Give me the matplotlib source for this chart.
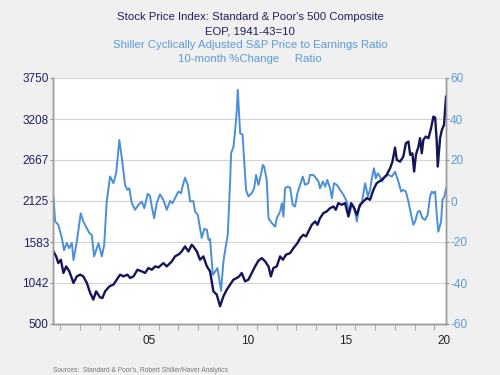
import matplotlib.pyplot as plt
import numpy as np

# ------------------------------
# Data
# ------------------------------
# S&P 500 index level (left axis)
sp_years = [
    2000.65, 2000.79, 2000.90, 2001.03, 2001.16, 2001.30, 2001.46, 2001.67, 2001.84, 2002.01,
    2002.17, 2002.35, 2002.52, 2002.68, 2002.82, 2003.02, 2003.14, 2003.28, 2003.50, 2003.70,
    2003.87, 2004.04, 2004.21, 2004.41, 2004.55, 2004.72, 2004.92, 2005.14, 2005.31, 2005.48,
    2005.65, 2005.82, 2005.99, 2006.24, 2006.41, 2006.67, 2006.83, 2007.04, 2007.17, 2007.34,
    2007.51, 2007.68, 2007.76, 2007.94, 2008.10, 2008.27, 2008.45, 2008.61, 2008.78, 2008.95,
    2009.12, 2009.29, 2009.46, 2009.63, 2009.80, 2009.97, 2010.09, 2010.22, 2010.39, 2010.56,
    2010.73, 2010.90, 2011.07, 2011.24, 2011.41, 2011.58, 2011.70, 2011.83, 2012.00, 2012.17,
    2012.31, 2012.47, 2012.68, 2012.85, 2013.05, 2013.19, 2013.35, 2013.49, 2013.61, 2013.78,
    2013.95, 2014.07, 2014.20, 2014.37, 2014.54, 2014.71, 2014.88, 2015.00, 2015.13, 2015.30,
    2015.47, 2015.64, 2015.78, 2015.89, 2016.07, 2016.23, 2016.40, 2016.58, 2016.74, 2016.91,
    2017.08, 2017.34, 2017.59, 2017.76, 2017.88, 2018.01, 2018.10, 2018.27, 2018.43, 2018.56,
    2018.69, 2018.78, 2018.89, 2018.98, 2019.07, 2019.20, 2019.28, 2019.37, 2019.45, 2019.57,
    2019.71, 2019.84, 2019.96, 2020.05, 2020.13, 2020.18, 2020.30, 2020.39, 2020.50, 2020.60,
]
sp_level = [
    1459, 1393, 1305, 1349, 1174, 1261, 1195, 1042, 1129, 1152,
    1129, 1042, 910, 822, 932, 852, 844, 932, 998, 1020,
    1086, 1152, 1129, 1152, 1108, 1129, 1217, 1195, 1174, 1240,
    1217, 1261, 1248, 1305, 1261, 1327, 1393, 1424, 1459, 1525,
    1459, 1547, 1525, 1459, 1349, 1393, 1261, 1195, 932, 888,
    734, 866, 954, 1020, 1086, 1108, 1129, 1174, 1063, 1086,
    1174, 1261, 1336, 1371, 1327, 1261, 1129, 1240, 1261, 1393,
    1349, 1415, 1437, 1503, 1569, 1635, 1679, 1657, 1723, 1811,
    1855, 1811, 1899, 1965, 1987, 2031, 2053, 2009, 2097, 2075,
    2097, 1921, 2097, 2053, 1943, 2075, 2119, 2163, 2141, 2273,
    2361, 2405, 2471, 2559, 2646, 2831, 2668, 2646, 2712, 2888,
    2910, 2734, 2756, 2514, 2734, 2844, 2955, 2756, 2932, 2976,
    2955, 3086, 3240, 3226, 2910, 2580, 2955, 3064, 3130, 3503,
]

# Shiller CAPE, 10-month % change (right axis)
cape_years = [
    2000.65, 2000.74, 2000.90, 2001.08, 2001.19, 2001.33, 2001.45, 2001.59, 2001.67, 2001.84,
    2002.04, 2002.17, 2002.35, 2002.48, 2002.60, 2002.72, 2002.94, 2003.11, 2003.23, 2003.36,
    2003.53, 2003.62, 2003.70, 2003.84, 2004.00, 2004.13, 2004.29, 2004.41, 2004.51, 2004.63,
    2004.80, 2004.97, 2005.14, 2005.27, 2005.44, 2005.56, 2005.65, 2005.77, 2005.90, 2006.07,
    2006.24, 2006.41, 2006.58, 2006.70, 2006.87, 2007.00, 2007.14, 2007.21, 2007.34, 2007.48,
    2007.60, 2007.76, 2007.85, 2007.99, 2008.07, 2008.19, 2008.32, 2008.45, 2008.53, 2008.61,
    2008.75, 2008.87, 2008.98, 2009.03, 2009.17, 2009.29, 2009.38, 2009.51, 2009.63, 2009.68,
    2009.80, 2009.88, 2009.97, 2010.02, 2010.14, 2010.26, 2010.34, 2010.44, 2010.56, 2010.73,
    2010.85, 2010.95, 2011.07, 2011.19, 2011.29, 2011.36, 2011.49, 2011.58, 2011.75, 2011.92,
    2012.00, 2012.17, 2012.26, 2012.34, 2012.42, 2012.54, 2012.68, 2012.81, 2012.93, 2013.05,
    2013.19, 2013.32, 2013.44, 2013.61, 2013.69, 2013.86, 2014.00, 2014.12, 2014.20, 2014.34,
    2014.46, 2014.57, 2014.71, 2014.80, 2014.91, 2015.05, 2015.22, 2015.39, 2015.56, 2015.68,
    2015.81, 2015.95, 2016.07, 2016.18, 2016.32, 2016.49, 2016.63, 2016.74, 2016.83, 2016.94,
    2017.03, 2017.13, 2017.25, 2017.34, 2017.50, 2017.67, 2017.85, 2018.01, 2018.18, 2018.32,
    2018.43, 2018.56, 2018.69, 2018.83, 2018.94, 2019.03, 2019.17, 2019.28, 2019.40, 2019.54,
    2019.67, 2019.79, 2019.88, 2019.96, 2020.05, 2020.13, 2020.21, 2020.35, 2020.42, 2020.52,
    2020.60,
]
cape_chg = [
    2.2, -10, -11.6, -18, -24, -20.5, -23, -20.5, -28.8, -19.8,
    -6, -10, -13.3, -15.7, -16.5, -27, -20.6, -27, -21.5, -0.3,
    12, 10.3, 8.7, 13.5, 29.8, 20.8, 7.9, 5.4, 6.2, -1,
    -4.3, -1.9, -0.3, -3.5, 3.5, 2.5, -2.7, -8.4, -1.1, 3.3,
    0.5, -4.3, 0, -1.1, 2.1, 4.6, 3.8, 7, 11.4, 7.9,
    -0.3, 0, -5.2, -6.8, -11.6, -18, -13.6, -14, -19, -18.5,
    -36, -34.4, -32.7, -35.2, -43.8, -29.5, -23.8, -16.5, 9.5, 23.3,
    26.5, 33.8, 44.4, 54.2, 33, 32.5, 20.8, 5.4, 2.2, 3.8,
    6.2, 12.7, 7.8, 12.7, 17.6, 16.8, 10.3, -8.4, -10.8, -12.5,
    -8.4, -5.2, -1.1, -7.6, 6.2, 7, 6.5, -1.9, -2.7, 3.8,
    7.9, 11.9, 7.9, 8.7, 12.7, 12.7, 11.1, 9.5, 6.2, 9.5,
    7, 10.3, 6.2, 1.4, 8.7, 7.9, 5.4, 3, -0.3, -6.8,
    -1.9, -3.5, -10, -3.5, -1.1, 8.7, 2.2, 5.4, 11.1, 16,
    11.1, 13.5, 11.9, 9.5, 11.9, 12.7, 11.9, 14.3, 9.5, 4.6,
    5.4, 4.6, -0.3, -6.8, -11.6, -10, -5.2, -4.9, -8.4, -9.2,
    -6.8, 2.2, 4.6, 3.8, 4.6, -6.8, -15, -10, 0.5, 2.2,
    6.2,
]

left_ticks = [500, 1042, 1583, 2125, 2667, 3208, 3750]
right_ticks = [-60, -40, -20, 0, 20, 40, 60]
year_labels = ["05", "10", "15", "20"]
label_years = [2005, 2010, 2015, 2020]

# ------------------------------
# Styling
# ------------------------------
NAVY = "#14145a"
BLUE = "#4a8fd8"
TEXT_NAVY = "#1f1f60"
TEXT_BLUE = "#5b9bd8"
BG = "#f0f0f0"

plt.rcParams["font.family"] = ["Liberation Sans", "DejaVu Sans"]

fig = plt.figure(figsize=(5, 3.75), dpi=100, facecolor=BG)
ax1 = fig.add_axes([0.106, 0.136, 0.786, 0.656])
ax2 = ax1.twinx()

# navy series drawn on top of the blue one; white plot area comes from ax2
ax1.set_zorder(ax2.get_zorder() + 1)
ax1.patch.set_visible(False)
ax2.patch.set_visible(True)
ax2.set_facecolor("white")

ax2.plot(cape_years, cape_chg, color=BLUE, lw=1.4)
ax1.plot(sp_years, sp_level, color=NAVY, lw=1.7)

ax1.set_xlim(2000.63, 2020.6)
ax1.set_ylim(500, 3750)
ax2.set_ylim(-60, 60)

ax1.set_yticks(left_ticks)
ax1.set_yticklabels([str(t) for t in left_ticks])
ax2.set_yticks(right_ticks)
ax2.set_yticklabels([str(t) for t in right_ticks])

# year boundary ticks, labels centred mid-year
ax1.set_xticks(np.arange(2001, 2021), minor=True)
ax1.set_xticks([y + 0.5 for y in label_years])
ax1.set_xticklabels(year_labels)
ax1.tick_params(axis="x", which="major", length=0, labelsize=8.5, colors="#222222", pad=8)
ax1.tick_params(axis="x", which="minor", length=4, color="#999999", direction="out")
ax1.tick_params(axis="y", length=2, color="#999999", labelsize=8.5, labelcolor=TEXT_NAVY, pad=1)
ax2.tick_params(axis="y", length=2, color="#999999", labelsize=8.5, labelcolor=TEXT_BLUE, pad=1)

for t in right_ticks[1:]:
    ax2.axhline(t, color="#d4d4d4", lw=0.8, zorder=0)

for ax in (ax1, ax2):
    for side in ("left", "right", "bottom"):
        ax.spines[side].set_color("#999999")
        ax.spines[side].set_linewidth(1.0)
    ax.spines["top"].set_visible(False)

# ------------------------------
# Titles and source
# ------------------------------
fig.text(0.5, 0.955, "Stock Price Index: Standard & Poor's 500 Composite",
         ha="center", va="center", fontsize=8.2, color=TEXT_NAVY)
fig.text(0.5, 0.917, "EOP, 1941-43=10", ha="center", va="center", fontsize=8.2, color=TEXT_NAVY)
fig.text(0.5, 0.880, "Shiller Cyclically Adjusted S&P Price to Earnings Ratio",
         ha="center", va="center", fontsize=8.2, color=TEXT_BLUE)
fig.text(0.5, 0.843, "10-month %Change     Ratio", ha="center", va="center",
         fontsize=8.2, color=TEXT_BLUE)
fig.text(0.106, 0.012, "Sources:  Standard & Poor's, Robert Shiller/Haver Analytics",
         ha="left", va="center", fontsize=4.8, color="#777777")

fig.savefig("out.png", dpi=100, facecolor=BG)
